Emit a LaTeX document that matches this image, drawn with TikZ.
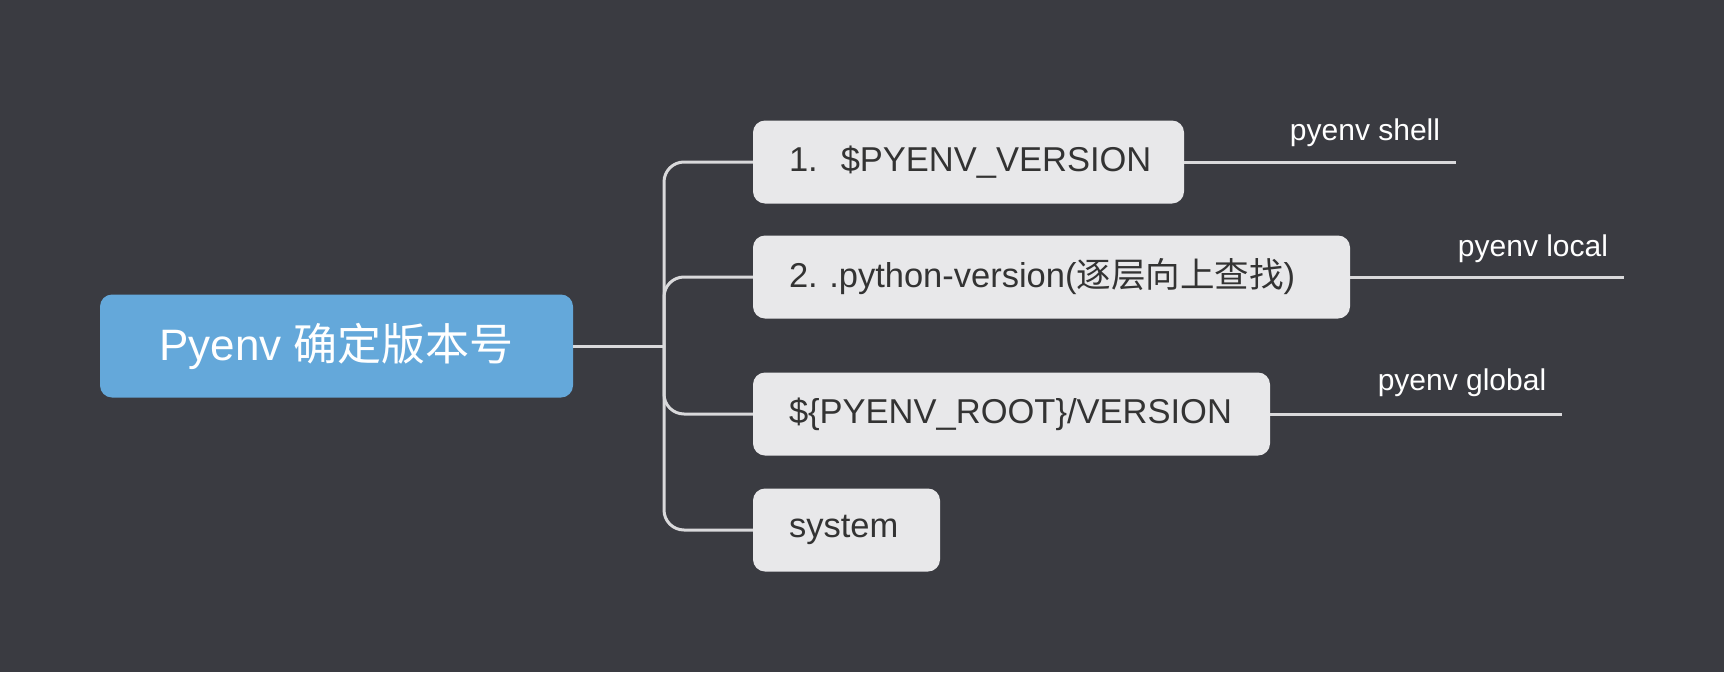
\documentclass[tikz,border=0pt]{standalone}
\usepackage{fontspec}
\setmainfont{Liberation Sans}
\newfontfamily\cjk{Noto Sans CJK SC}
\definecolor{bgc}{HTML}{3A3B41}
\definecolor{rootc}{HTML}{64A8DA}
\definecolor{boxc}{HTML}{E8E8EA}
\definecolor{txtc}{HTML}{333333}
\definecolor{linec}{HTML}{D9D9DB}
\begin{document}
\frenchspacing
\begin{tikzpicture}[x=1pt,y=-1pt,
  rootbox/.style={fill=rootc, rounded corners=12pt, text=white, inner sep=0pt,
    minimum width=473pt, minimum height=103pt, font=\fontsize{44}{52}\selectfont},
  itembox/.style={fill=boxc, rounded corners=12pt, text=txtc, inner ysep=0pt, inner xsep=36pt,
    align=left, minimum height=83pt, font=\fontsize{34.5}{40}\selectfont},
  lbl/.style={text=white, inner sep=0pt, anchor=base, font=\fontsize{30}{36}\selectfont},
  conn/.style={draw=linec, line width=3pt},
]
\fill[bgc] (0,0) rectangle (1724,672);
\useasboundingbox (0,0) rectangle (1724,672);

\node[rootbox] (root) at (336.5,346) {Pyenv {\cjk 确定版本号}};

\node[itembox, text width=359pt] (b1) at (968.5,162) {\mbox{1.\ \ \$PYENV\_VERSION}};
\node[itembox, text width=525pt] (b2) at (1051.5,277) {\mbox{2. .python-version({\cjk 逐层向上查找})}};
\node[itembox, text width=445pt] (b3) at (1011.5,414) {\mbox{\$\{PYENV\_ROOT\}/VERSION}};
\node[itembox, text width=115pt] (b4) at (846.5,530) {\mbox{system}};

\coordinate (j) at (664,346);
\draw[conn] (root.east) -- (j);
\draw[conn, rounded corners=20pt] (j) |- (b1.west);
\draw[conn, rounded corners=20pt] (j) |- (b2.west);
\draw[conn, rounded corners=20pt] (j) |- (b3.west);
\draw[conn, rounded corners=20pt] (j) |- (b4.west);

\coordinate (e1) at (1456,162);
\coordinate (e2) at (1624,277);
\coordinate (e3) at (1562,414);
\draw[conn] (b1.east) -- (e1);
\draw[conn] (b2.east) -- (e2);
\draw[conn] (b3.east) -- (e3);

\node[lbl] (l1) at (1365,140) {pyenv shell};
\node[lbl] (l2) at (1533,256) {pyenv local};
\node[lbl] (l3) at (1462,390) {pyenv global};
\end{tikzpicture}
\end{document}
